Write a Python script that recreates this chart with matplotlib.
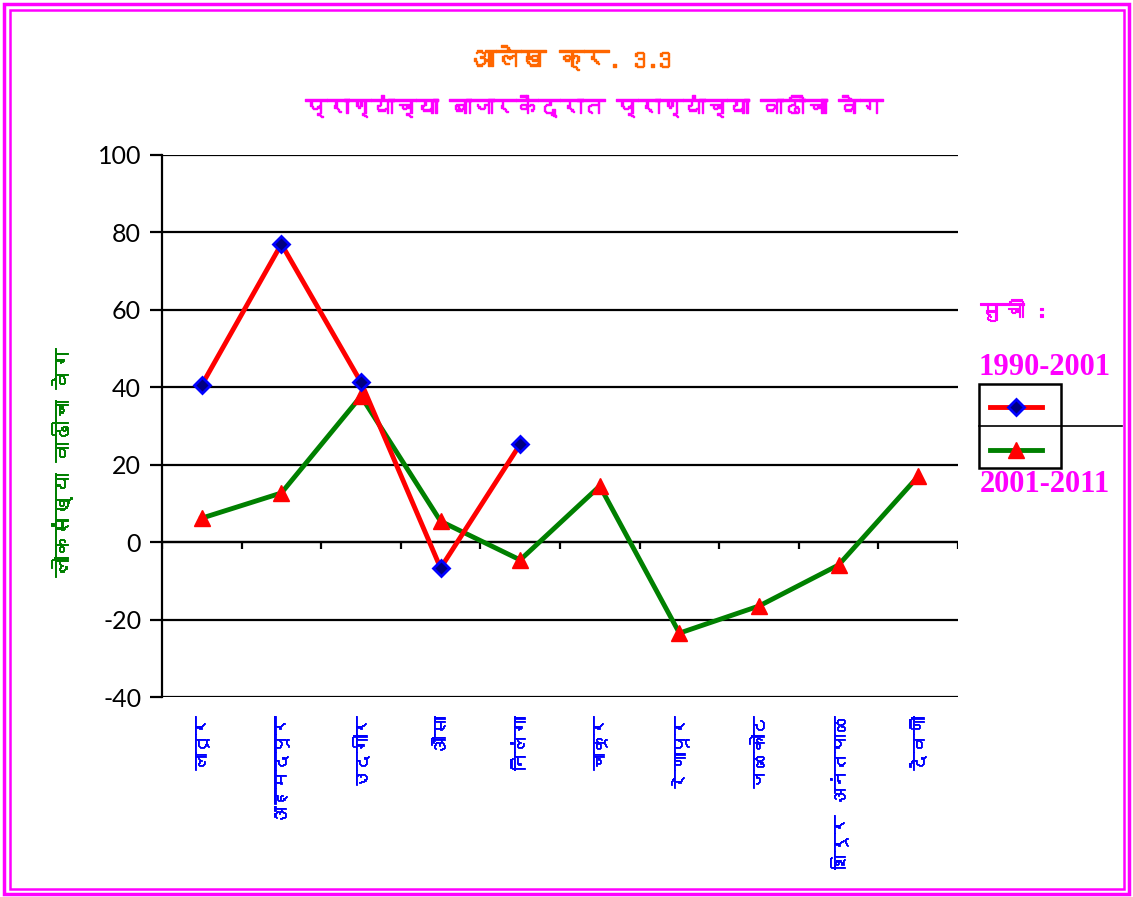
import numpy as np
import matplotlib
matplotlib.use("Agg")
import matplotlib.pyplot as plt
import matplotlib.patheffects as pe
from matplotlib import font_manager
from matplotlib.ft2font import FT2Font
from matplotlib.lines import Line2D
from matplotlib.patches import Rectangle

# ---- data ----
talukas = ["लातूर", "अहमदपूर", "उदगीर", "औसा", "निलंगा",
           "चाकूर", "रेणापूर", "जळकोट", "शिरूर अनंतपाळ", "देवणी"]
growth_1990_2001 = [40.6, 77.0, 41.3, -6.7, 25.3,
                    np.nan, np.nan, np.nan, np.nan, np.nan]
growth_2001_2011 = [6.2, 12.7, 37.7, 5.4, -4.6,
                    14.5, -23.5, -16.5, -5.9, 17.0]
label_1 = "1990-2001"
label_2 = "2001-2011"
title_1 = "आलेख क्र. 3.3"
title_2 = "प्राण्यांच्या बाजारकेंद्रात प्राण्यांच्या वाढीचा वेग"
y_label = "लोकसंख्या वाढीचा वेग"
legend_title = "सुची :"


def devanagari_fonts():
    # look for any installed font that has Devanagari glyphs
    found = []
    for f in font_manager.fontManager.ttflist:
        try:
            cmap = FT2Font(f.fname).get_charmap()
        except Exception:
            continue
        if 0x0915 in cmap and f.name not in found:
            found.append(f.name)
    return found


deva = devanagari_fonts()
plt.rcParams["font.family"] = deva + ["DejaVu Sans"]
plt.rcParams["axes.unicode_minus"] = False


def fat(color, w=0.8):
    # slight fake bold for the devanagari text
    return [pe.withStroke(linewidth=w, foreground=color)]


W, H = 1133, 897
fig = plt.figure(figsize=(W / 100, H / 100), dpi=100)


def fx(px):
    return px / W


def fy(py):
    return 1 - py / H


ax = fig.add_axes([fx(162), fy(697), fx(958) - fx(162), fy(155) - fy(697)])

x = np.arange(1, len(talukas) + 1)
ax.plot(x, growth_1990_2001, color="red", lw=3.5, marker="D", ms=8,
        mfc="#000080", mec="blue", mew=2, zorder=4)
ax.plot(x, growth_2001_2011, color="green", lw=3.5, marker="^", ms=12,
        mfc="red", mec="red", zorder=3)

ax.set_xlim(0.5, len(talukas) + 0.5)
ax.set_ylim(-40, 100)
ax.set_yticks(np.arange(-40, 101, 20))
ax.yaxis.grid(True, color="black", lw=1.6)
ax.set_axisbelow(True)
for s in ["top", "right", "bottom"]:
    ax.spines[s].set_visible(False)
ax.spines["left"].set_linewidth(1.6)
ax.tick_params(axis="y", length=9, width=1.6, pad=6)
for t in ax.get_yticklabels():
    t.set_fontfamily(["Lato", "DejaVu Sans"])
    t.set_fontsize(18)

# zero line with category ticks
ax.axhline(0, color="black", lw=1.6, zorder=2)
bounds = np.arange(0.5, len(talukas) + 1, 1.0)
ax.vlines(bounds, -1.8, 0, color="black", lw=1.6, zorder=2)

ax.set_xticks(x)
ax.set_xticklabels(talukas, rotation=90, color="blue", fontweight="bold",
                   fontsize=13, va="top", ha="center")
for t in ax.get_xticklabels():
    t.set_path_effects(fat("blue", 0.6))
ax.tick_params(axis="x", length=0, pad=14)

fig.text(fx(62), fy(462), y_label, rotation=90, color="green",
         fontweight="bold", fontsize=15, ha="center", va="center",
         path_effects=fat("green", 0.7))

fig.text(fx(571), fy(58), title_1, color="#FF6600", fontweight="bold",
         fontsize=18, ha="center", va="center", path_effects=fat("#FF6600", 1.0))
fig.text(fx(594), fy(107), title_2, color="#FF00FF", fontweight="bold",
         fontsize=16, ha="center", va="center", path_effects=fat("#FF00FF", 1.0))

# legend drawn by hand like the original
fig.text(fx(980), fy(311), legend_title, color="#FF00FF", fontweight="bold",
         fontsize=16, ha="left", va="center", path_effects=fat("#FF00FF", 0.8))
fig.text(fx(1045), fy(367), label_1, color="#FF00FF", fontweight="bold",
         fontsize=22, ha="center", va="center", family="Liberation Serif")
fig.text(fx(1045), fy(484), label_2, color="#FF00FF", fontweight="bold",
         fontsize=22, ha="center", va="center", family="Liberation Serif")
fig.add_artist(Rectangle((fx(979), fy(468)), fx(1061) - fx(979), fy(384) - fy(468),
                         fill=False, ec="black", lw=1.8, transform=fig.transFigure))
fig.add_artist(Line2D([fx(979), fx(1122)], [fy(426), fy(426)], color="black",
                      lw=1.2, transform=fig.transFigure))
fig.add_artist(Line2D([fx(990), fx(1042)], [fy(407), fy(407)], color="red",
                      lw=3.5, transform=fig.transFigure))
fig.add_artist(Line2D([fx(1016)], [fy(407)], lw=0, marker="D", ms=8,
                      mfc="#000080", mec="blue", mew=2, transform=fig.transFigure))
fig.add_artist(Line2D([fx(990), fx(1042)], [fy(450), fy(450)], color="green",
                      lw=3.5, transform=fig.transFigure))
fig.add_artist(Line2D([fx(1016)], [fy(450)], lw=0, marker="^", ms=12,
                      mfc="red", mec="red", transform=fig.transFigure))

# double magenta frame
fig.add_artist(Rectangle((fx(4), fy(894)), fx(1129) - fx(4), fy(4) - fy(894),
                         fill=False, ec="#FF00FF", lw=2.5, transform=fig.transFigure))
fig.add_artist(Rectangle((fx(10), fy(889)), fx(1124) - fx(10), fy(10) - fy(889),
                         fill=False, ec="#FF00FF", lw=1.8, transform=fig.transFigure))

plt.savefig("out.png", dpi=100)
